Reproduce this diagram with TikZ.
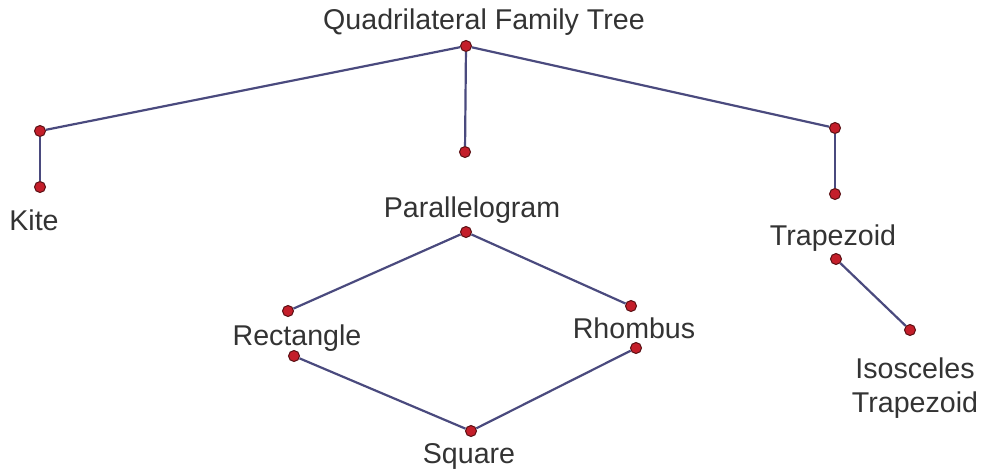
\documentclass[tikz,border=0pt]{standalone}
\usepackage{fontspec}
\setmainfont{Liberation Sans}
\usepackage{xcolor}
\usetikzlibrary{positioning}
\definecolor{linkblue}{HTML}{4A4A7E}
\definecolor{dotred}{HTML}{C41E2A}
\definecolor{dotrim}{HTML}{5A1014}
\definecolor{labelgray}{HTML}{333333}
\begin{document}
\begin{tikzpicture}[x=1pt,y=-1pt,dot/.style={circle,draw=dotrim,fill=dotred,line width=1pt,inner sep=0pt,minimum size=11pt},lbl/.style={anchor=base,text=labelgray,font=\fontsize{28.6}{34}\selectfont,align=center,inner sep=0pt},link/.style={draw=linkblue,line width=2.2pt}]
\useasboundingbox (0,0) rectangle (982,472);
\node[lbl] (title) at (484,29) {Quadrilateral Family Tree};
\node[lbl] (kite) at (34,230) {Kite};
\node[lbl] (para) at (472,217) {Parallelogram};
\node[lbl] (rect) at (297,345) {Rectangle};
\node[lbl] (rhom) at (634,338) {Rhombus};
\node[lbl] (sq) at (469,463) {Square};
\node[lbl] (trap) at (833,245) {Trapezoid};
\node[lbl] (iso) at (915,412) {Isosceles\\Trapezoid};
\node[dot] (top) at (466,46) {};
\node[dot] (kiteup) at (40,131) {};
\node[dot] (kitedn) at (40,187) {};
\node[dot] (mid) at (465,152) {};
\node[dot] (trapup) at (835,128) {};
\node[dot] (trapdn) at (835,194) {};
\node[dot] (parapt) at (466,232) {};
\node[dot] (rectup) at (288,311) {};
\node[dot] (rectdn) at (294,356) {};
\node[dot] (rhomup) at (631,306) {};
\node[dot] (rhomdn) at (636,348) {};
\node[dot] (sqpt) at (471,431) {};
\node[dot] (trappt) at (836,259) {};
\node[dot] (isopt) at (910,330) {};
\draw[link] (top)--(kiteup);
\draw[link] (kiteup)--(kitedn);
\draw[link] (top)--(mid);
\draw[link] (top)--(trapup);
\draw[link] (trapup)--(trapdn);
\draw[link] (parapt)--(rectup);
\draw[link] (parapt)--(rhomup);
\draw[link] (rectdn)--(sqpt);
\draw[link] (rhomdn)--(sqpt);
\draw[link] (trappt)--(isopt);
\end{tikzpicture}
\end{document}
